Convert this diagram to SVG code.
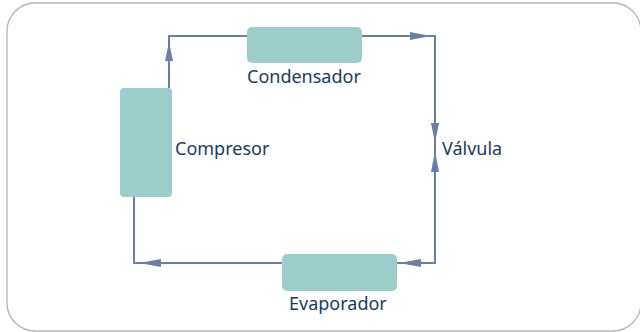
<svg xmlns="http://www.w3.org/2000/svg" width="640" height="332" viewBox="0 0 640 332">
<style>
.frame{fill:#ffffff;stroke:#b4b4b4;stroke-width:1.3}
.box{fill:#9dcdca}
.lbl{font-family:"Noto Sans","Open Sans",sans-serif;font-size:18px;fill:#1b3a5e}
.ln{fill:none;stroke:#6b7fa0;stroke-width:2}
.ah{fill:#6b7fa0}
</style>
<rect class="frame" x="7" y="3" width="634" height="328" rx="28"/>
<g id="connectors">
<path class="ln" d="M169 88 V36 H247"/>
<path class="ln" d="M362 36 H435 V263 H397"/>
<path class="ln" d="M282 263 H134 V197"/>
<polygon class="ah" points="169,42 165,61 173,61"/>
<polygon class="ah" points="431,36 410,32 410,40"/>
<polygon class="ah" points="435,143 431,123 439,123"/>
<polygon class="ah" points="435,151 431,172 439,172"/>
<polygon class="ah" points="399,263 421,259 421,267"/>
<polygon class="ah" points="139,263 161,259 161,267"/>
</g>
<g id="compresor">
<rect class="box" x="120" y="88" width="52" height="109" rx="4"/>
<text class="lbl" x="175" y="155">Compresor</text>
</g>
<g id="condensador">
<rect class="box" x="247" y="27" width="115" height="36" rx="5"/>
<text class="lbl" x="247" y="83">Condensador</text>
</g>
<g id="valvula">
<text class="lbl" x="442" y="155">Válvula</text>
</g>
<g id="evaporador">
<rect class="box" x="282" y="254" width="115" height="37" rx="5"/>
<text class="lbl" x="289" y="310">Evaporador</text>
</g>
</svg>
